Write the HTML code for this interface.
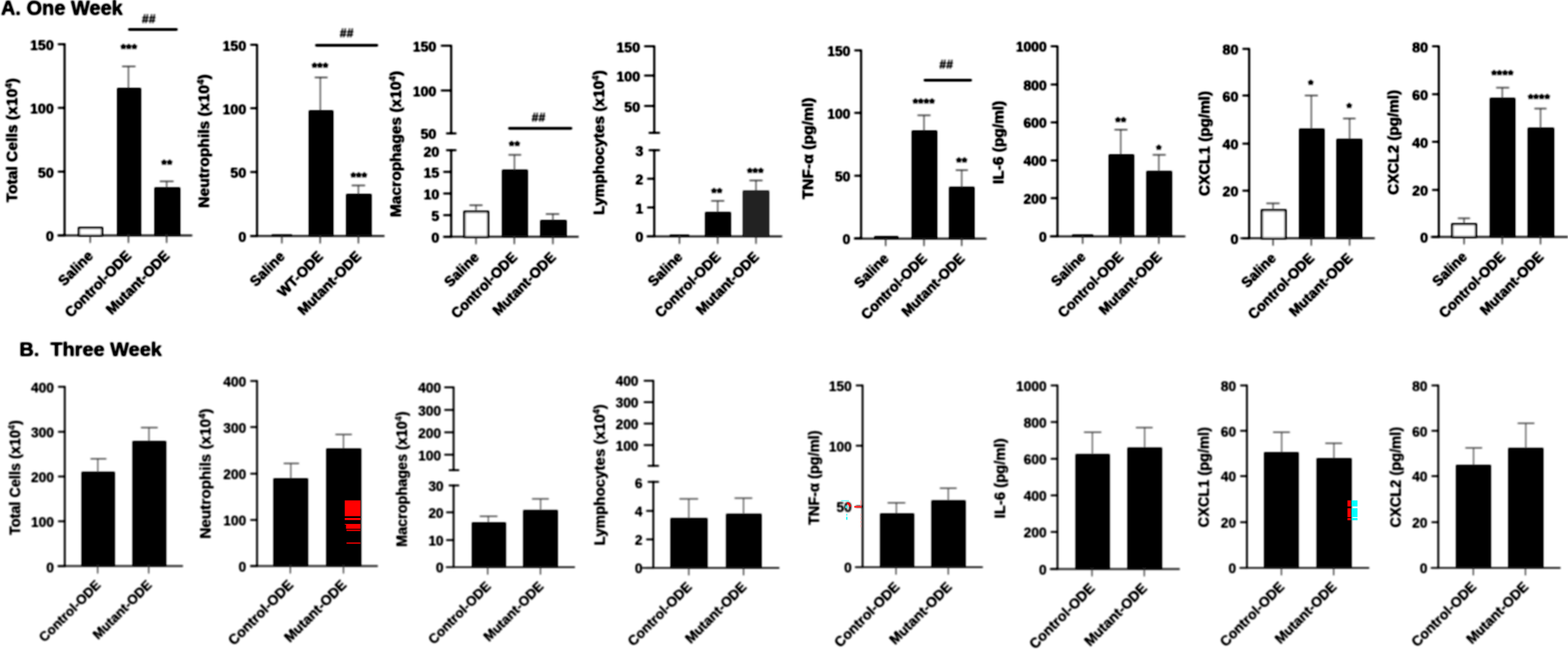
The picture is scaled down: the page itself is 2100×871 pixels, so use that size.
<!DOCTYPE html>
<html lang="en">
<head>
<meta charset="utf-8">
<title>Figure: One Week and Three Week ODE exposure</title>
<style>
html,body{margin:0;padding:0;background:#fff;}
body{width:2100px;height:871px;overflow:hidden;}
svg{display:block;}
svg text{font-family:"Liberation Sans",sans-serif;font-weight:bold;fill:#000;stroke:#000;stroke-width:0.1px;stroke-linejoin:round;}
</style>
</head>
<body>
<svg width="2100" height="871" viewBox="0 0 2100 871">
<defs><filter id="soft" x="0" y="0" width="2100" height="871" filterUnits="userSpaceOnUse"><feGaussianBlur stdDeviation="0.8"/><feComponentTransfer><feFuncA type="linear" slope="1.35" intercept="0"/></feComponentTransfer></filter><filter id="softB" x="0" y="0" width="2100" height="871" filterUnits="userSpaceOnUse"><feGaussianBlur stdDeviation="0.8"/><feComponentTransfer><feFuncA type="linear" slope="1.2" intercept="0"/></feComponentTransfer></filter></defs>
<rect x="0" y="0" width="2100" height="871" fill="#fff"/>
<g filter="url(#soft)">
<line x1="86.50" y1="57.90" x2="86.50" y2="316.60" stroke="#000" stroke-width="2.2"/>
<line x1="77.50" y1="59.25" x2="86.50" y2="59.25" stroke="#000" stroke-width="2.2"/>
<text x="72.00" y="66.75" font-size="19.0" text-anchor="end">150</text>
<line x1="77.50" y1="144.50" x2="86.50" y2="144.50" stroke="#000" stroke-width="2.2"/>
<text x="72.00" y="152.00" font-size="19.0" text-anchor="end">100</text>
<line x1="77.50" y1="230.00" x2="86.50" y2="230.00" stroke="#000" stroke-width="2.2"/>
<text x="72.00" y="237.50" font-size="19.0" text-anchor="end">50</text>
<line x1="77.50" y1="315.50" x2="86.50" y2="315.50" stroke="#000" stroke-width="2.2"/>
<text x="72.00" y="323.00" font-size="19.0" text-anchor="end">0</text>
<rect x="105.85" y="305.60" width="30.80" height="9.90" fill="#fff" stroke="#000" stroke-width="2.7"/>
<rect x="157.00" y="118.00" width="31.75" height="197.50" fill="#000"/>
<rect x="207.00" y="251.25" width="34.25" height="64.25" fill="#000"/>
<line x1="172.00" y1="89.00" x2="172.00" y2="118.00" stroke="#4a4a4a" stroke-width="1.3"/>
<line x1="163.50" y1="89.00" x2="181.50" y2="89.00" stroke="#4a4a4a" stroke-width="1.6"/>
<line x1="223.25" y1="243.00" x2="223.25" y2="251.25" stroke="#4a4a4a" stroke-width="1.3"/>
<line x1="214.00" y1="243.00" x2="232.50" y2="243.00" stroke="#4a4a4a" stroke-width="1.6"/>
<line x1="77.00" y1="315.50" x2="257.50" y2="315.50" stroke="#1a1a1a" stroke-width="2.0"/>
<line x1="120.75" y1="315.50" x2="120.75" y2="325.50" stroke="#444" stroke-width="1.5"/>
<text x="125.95" y="344.00" font-size="19.3" text-anchor="end" transform="rotate(-45 125.95 344.00)">Saline</text>
<line x1="172.00" y1="315.50" x2="172.00" y2="325.50" stroke="#444" stroke-width="1.5"/>
<text x="177.20" y="344.00" font-size="19.3" text-anchor="end" transform="rotate(-45 177.20 344.00)">Control-ODE</text>
<line x1="223.25" y1="315.50" x2="223.25" y2="325.50" stroke="#444" stroke-width="1.5"/>
<text x="228.45" y="344.00" font-size="19.3" text-anchor="end" transform="rotate(-45 228.45 344.00)">Mutant-ODE</text>
<text x="172.50" y="72.45" font-size="19" text-anchor="middle">***</text>
<text x="223.50" y="226.95" font-size="19" text-anchor="middle">**</text>
<line x1="173.00" y1="39.50" x2="236.50" y2="39.50" stroke="#000" stroke-width="2.8" stroke-linecap="round"/>
<text x="199.00" y="31.00" font-size="16.5" text-anchor="middle" font-style="italic">##</text>
<text x="23.00" y="188.00" font-size="21" text-anchor="middle" transform="rotate(-90 23.00 188.00)">Total Cells (x10<tspan font-size="13.0" dy="-7.5">4</tspan><tspan dy="7.5">)</tspan></text>
<line x1="344.25" y1="58.90" x2="344.25" y2="317.35" stroke="#000" stroke-width="2.2"/>
<line x1="335.25" y1="60.00" x2="344.25" y2="60.00" stroke="#000" stroke-width="2.2"/>
<text x="329.75" y="67.50" font-size="19.0" text-anchor="end">150</text>
<line x1="335.25" y1="145.00" x2="344.25" y2="145.00" stroke="#000" stroke-width="2.2"/>
<text x="329.75" y="152.50" font-size="19.0" text-anchor="end">100</text>
<line x1="335.25" y1="230.50" x2="344.25" y2="230.50" stroke="#000" stroke-width="2.2"/>
<text x="329.75" y="238.00" font-size="19.0" text-anchor="end">50</text>
<line x1="335.25" y1="316.25" x2="344.25" y2="316.25" stroke="#000" stroke-width="2.2"/>
<text x="329.75" y="323.75" font-size="19.0" text-anchor="end">0</text>
<rect x="364.00" y="314.20" width="27.00" height="2.05" fill="#000"/>
<rect x="413.75" y="148.00" width="32.50" height="168.25" fill="#000"/>
<rect x="463.75" y="260.00" width="33.75" height="56.25" fill="#000"/>
<line x1="429.00" y1="103.75" x2="429.00" y2="148.00" stroke="#4a4a4a" stroke-width="1.3"/>
<line x1="421.50" y1="103.75" x2="438.75" y2="103.75" stroke="#4a4a4a" stroke-width="1.6"/>
<line x1="480.00" y1="248.50" x2="480.00" y2="260.00" stroke="#4a4a4a" stroke-width="1.3"/>
<line x1="471.00" y1="248.50" x2="489.00" y2="248.50" stroke="#4a4a4a" stroke-width="1.6"/>
<line x1="335.00" y1="316.25" x2="515.00" y2="316.25" stroke="#1a1a1a" stroke-width="2.0"/>
<line x1="377.50" y1="316.25" x2="377.50" y2="326.25" stroke="#444" stroke-width="1.5"/>
<text x="382.70" y="344.75" font-size="19.3" text-anchor="end" transform="rotate(-45 382.70 344.75)">Saline</text>
<line x1="428.75" y1="316.25" x2="428.75" y2="326.25" stroke="#444" stroke-width="1.5"/>
<text x="433.95" y="344.75" font-size="19.3" text-anchor="end" transform="rotate(-45 433.95 344.75)">WT-ODE</text>
<line x1="480.00" y1="316.25" x2="480.00" y2="326.25" stroke="#444" stroke-width="1.5"/>
<text x="485.20" y="344.75" font-size="19.3" text-anchor="end" transform="rotate(-45 485.20 344.75)">Mutant-ODE</text>
<text x="428.50" y="97.45" font-size="19" text-anchor="middle">***</text>
<text x="480.50" y="243.95" font-size="19" text-anchor="middle">***</text>
<line x1="423.50" y1="60.75" x2="505.00" y2="60.75" stroke="#000" stroke-width="2.8" stroke-linecap="round"/>
<text x="464.00" y="50.00" font-size="16.5" text-anchor="middle" font-style="italic">##</text>
<text x="280.00" y="189.00" font-size="21" text-anchor="middle" transform="rotate(-90 280.00 189.00)">Neutrophils (x10<tspan font-size="13.0" dy="-7.5">4</tspan><tspan dy="7.5">)</tspan></text>
<line x1="604.25" y1="60.15" x2="604.25" y2="179.85" stroke="#000" stroke-width="2.2"/>
<line x1="604.25" y1="200.15" x2="604.25" y2="318.40" stroke="#000" stroke-width="2.2"/>
<line x1="597.50" y1="178.75" x2="611.25" y2="178.75" stroke="#000" stroke-width="2.2"/>
<line x1="597.50" y1="201.25" x2="611.25" y2="201.25" stroke="#000" stroke-width="2.2"/>
<line x1="590.50" y1="61.25" x2="604.25" y2="61.25" stroke="#000" stroke-width="2.2"/>
<text x="584.40" y="68.75" font-size="19.0" text-anchor="end">150</text>
<line x1="590.50" y1="121.25" x2="604.25" y2="121.25" stroke="#000" stroke-width="2.2"/>
<text x="584.40" y="128.75" font-size="19.0" text-anchor="end">100</text>
<text x="584.40" y="186.25" font-size="19.0" text-anchor="end">50</text>
<text x="588.45" y="209.50" font-size="19.0" text-anchor="end">20</text>
<line x1="593.75" y1="230.30" x2="604.25" y2="230.30" stroke="#000" stroke-width="2.2"/>
<text x="588.45" y="237.80" font-size="19.0" text-anchor="end">15</text>
<line x1="593.75" y1="259.30" x2="604.25" y2="259.30" stroke="#000" stroke-width="2.2"/>
<text x="588.45" y="266.80" font-size="19.0" text-anchor="end">10</text>
<line x1="593.75" y1="288.30" x2="604.25" y2="288.30" stroke="#000" stroke-width="2.2"/>
<text x="588.45" y="295.80" font-size="19.0" text-anchor="end">5</text>
<line x1="593.75" y1="317.30" x2="604.25" y2="317.30" stroke="#000" stroke-width="2.2"/>
<text x="588.45" y="324.80" font-size="19.0" text-anchor="end">0</text>
<rect x="622.10" y="283.85" width="31.55" height="33.45" fill="#fff" stroke="#000" stroke-width="2.7"/>
<rect x="672.50" y="227.50" width="34.25" height="89.80" fill="#000"/>
<rect x="723.75" y="295.00" width="35.00" height="22.30" fill="#000"/>
<line x1="637.50" y1="275.00" x2="637.50" y2="282.50" stroke="#4a4a4a" stroke-width="1.3"/>
<line x1="628.75" y1="275.00" x2="646.25" y2="275.00" stroke="#4a4a4a" stroke-width="1.6"/>
<line x1="689.00" y1="207.50" x2="689.00" y2="227.50" stroke="#4a4a4a" stroke-width="1.3"/>
<line x1="681.00" y1="207.50" x2="698.00" y2="207.50" stroke="#4a4a4a" stroke-width="1.6"/>
<line x1="740.50" y1="286.75" x2="740.50" y2="295.00" stroke="#4a4a4a" stroke-width="1.3"/>
<line x1="731.00" y1="286.75" x2="749.00" y2="286.75" stroke="#4a4a4a" stroke-width="1.6"/>
<line x1="593.75" y1="317.30" x2="775.00" y2="317.30" stroke="#1a1a1a" stroke-width="2.0"/>
<line x1="637.50" y1="317.30" x2="637.50" y2="327.30" stroke="#444" stroke-width="1.5"/>
<text x="642.70" y="345.80" font-size="19.16" text-anchor="end" transform="rotate(-45 642.70 345.80)">Saline</text>
<line x1="688.75" y1="317.30" x2="688.75" y2="327.30" stroke="#444" stroke-width="1.5"/>
<text x="693.95" y="345.80" font-size="19.16" text-anchor="end" transform="rotate(-45 693.95 345.80)">Control-ODE</text>
<line x1="740.50" y1="317.30" x2="740.50" y2="327.30" stroke="#444" stroke-width="1.5"/>
<text x="745.70" y="345.80" font-size="19.16" text-anchor="end" transform="rotate(-45 745.70 345.80)">Mutant-ODE</text>
<text x="689.00" y="202.45" font-size="19" text-anchor="middle">**</text>
<line x1="682.00" y1="172.00" x2="765.00" y2="172.00" stroke="#000" stroke-width="2.8" stroke-linecap="round"/>
<text x="721.00" y="163.00" font-size="16.5" text-anchor="middle" font-style="italic">##</text>
<text x="537.00" y="193.00" font-size="20.85" text-anchor="middle" transform="rotate(-90 537.00 193.00)">Macrophages (x10<tspan font-size="12.9" dy="-7.5">4</tspan><tspan dy="7.5">)</tspan></text>
<line x1="876.25" y1="60.90" x2="876.25" y2="179.10" stroke="#000" stroke-width="2.2"/>
<line x1="876.25" y1="200.15" x2="876.25" y2="317.85" stroke="#000" stroke-width="2.2"/>
<line x1="868.75" y1="178.00" x2="883.75" y2="178.00" stroke="#000" stroke-width="2.2"/>
<line x1="868.75" y1="201.25" x2="883.75" y2="201.25" stroke="#000" stroke-width="2.2"/>
<line x1="862.75" y1="62.00" x2="876.25" y2="62.00" stroke="#000" stroke-width="2.2"/>
<text x="857.25" y="69.50" font-size="19.0" text-anchor="end">150</text>
<line x1="862.75" y1="101.25" x2="876.25" y2="101.25" stroke="#000" stroke-width="2.2"/>
<text x="857.25" y="108.75" font-size="19.0" text-anchor="end">100</text>
<line x1="862.75" y1="142.00" x2="876.25" y2="142.00" stroke="#000" stroke-width="2.2"/>
<text x="857.25" y="149.50" font-size="19.0" text-anchor="end">50</text>
<text x="861.55" y="208.75" font-size="19.0" text-anchor="end">3</text>
<line x1="866.75" y1="239.50" x2="876.25" y2="239.50" stroke="#000" stroke-width="2.2"/>
<text x="861.55" y="247.00" font-size="19.0" text-anchor="end">2</text>
<line x1="866.75" y1="278.00" x2="876.25" y2="278.00" stroke="#000" stroke-width="2.2"/>
<text x="861.55" y="285.50" font-size="19.0" text-anchor="end">1</text>
<line x1="866.75" y1="316.75" x2="876.25" y2="316.75" stroke="#000" stroke-width="2.2"/>
<text x="861.55" y="324.25" font-size="19.0" text-anchor="end">0</text>
<rect x="897.00" y="314.60" width="26.00" height="2.15" fill="#000"/>
<rect x="944.50" y="284.25" width="34.25" height="32.50" fill="#000"/>
<rect x="995.00" y="255.50" width="35.00" height="61.25" fill="#242424"/>
<line x1="961.25" y1="269.25" x2="961.25" y2="284.25" stroke="#4a4a4a" stroke-width="1.3"/>
<line x1="952.50" y1="269.25" x2="970.00" y2="269.25" stroke="#4a4a4a" stroke-width="1.6"/>
<line x1="1012.50" y1="241.75" x2="1012.50" y2="255.50" stroke="#4a4a4a" stroke-width="1.3"/>
<line x1="1003.75" y1="241.75" x2="1021.25" y2="241.75" stroke="#4a4a4a" stroke-width="1.6"/>
<line x1="866.00" y1="316.75" x2="1047.50" y2="316.75" stroke="#1a1a1a" stroke-width="2.0"/>
<line x1="910.00" y1="316.75" x2="910.00" y2="326.75" stroke="#444" stroke-width="1.5"/>
<text x="915.20" y="345.25" font-size="19.02" text-anchor="end" transform="rotate(-45 915.20 345.25)">Saline</text>
<line x1="961.25" y1="316.75" x2="961.25" y2="326.75" stroke="#444" stroke-width="1.5"/>
<text x="966.45" y="345.25" font-size="19.02" text-anchor="end" transform="rotate(-45 966.45 345.25)">Control-ODE</text>
<line x1="1012.50" y1="316.75" x2="1012.50" y2="326.75" stroke="#444" stroke-width="1.5"/>
<text x="1017.70" y="345.25" font-size="19.02" text-anchor="end" transform="rotate(-45 1017.70 345.25)">Mutant-ODE</text>
<text x="960.00" y="264.95" font-size="19" text-anchor="middle">**</text>
<text x="1011.50" y="238.45" font-size="19" text-anchor="middle">***</text>
<text x="809.00" y="191.00" font-size="20.7" text-anchor="middle" transform="rotate(-90 809.00 191.00)">Lymphocytes (x10<tspan font-size="12.8" dy="-7.5">4</tspan><tspan dy="7.5">)</tspan></text>
<line x1="1153.25" y1="66.40" x2="1153.25" y2="320.35" stroke="#000" stroke-width="2.2"/>
<line x1="1144.25" y1="67.50" x2="1153.25" y2="67.50" stroke="#000" stroke-width="2.2"/>
<text x="1138.75" y="74.82" font-size="18.5" text-anchor="end">150</text>
<line x1="1144.25" y1="151.25" x2="1153.25" y2="151.25" stroke="#000" stroke-width="2.2"/>
<text x="1138.75" y="158.57" font-size="18.5" text-anchor="end">100</text>
<line x1="1144.25" y1="235.50" x2="1153.25" y2="235.50" stroke="#000" stroke-width="2.2"/>
<text x="1138.75" y="242.82" font-size="18.5" text-anchor="end">50</text>
<line x1="1144.25" y1="319.25" x2="1153.25" y2="319.25" stroke="#000" stroke-width="2.2"/>
<text x="1138.75" y="326.57" font-size="18.5" text-anchor="end">0</text>
<rect x="1171.00" y="316.60" width="32.00" height="3.20" fill="#000"/>
<rect x="1221.25" y="175.00" width="33.75" height="144.80" fill="#000"/>
<rect x="1271.25" y="250.50" width="33.75" height="69.30" fill="#000"/>
<line x1="1237.50" y1="154.50" x2="1237.50" y2="175.00" stroke="#4a4a4a" stroke-width="1.3"/>
<line x1="1228.75" y1="154.50" x2="1246.25" y2="154.50" stroke="#4a4a4a" stroke-width="1.6"/>
<line x1="1288.00" y1="228.00" x2="1288.00" y2="250.50" stroke="#4a4a4a" stroke-width="1.3"/>
<line x1="1280.00" y1="228.00" x2="1296.25" y2="228.00" stroke="#4a4a4a" stroke-width="1.6"/>
<line x1="1143.75" y1="319.80" x2="1321.25" y2="319.80" stroke="#1a1a1a" stroke-width="2.0"/>
<line x1="1186.25" y1="319.80" x2="1186.25" y2="329.80" stroke="#444" stroke-width="1.5"/>
<text x="1191.45" y="347.40" font-size="19.1" text-anchor="end" transform="rotate(-45 1191.45 347.40)">Saline</text>
<line x1="1237.50" y1="319.80" x2="1237.50" y2="329.80" stroke="#444" stroke-width="1.5"/>
<text x="1242.70" y="347.40" font-size="19.1" text-anchor="end" transform="rotate(-45 1242.70 347.40)">Control-ODE</text>
<line x1="1288.00" y1="319.80" x2="1288.00" y2="329.80" stroke="#444" stroke-width="1.5"/>
<text x="1293.20" y="347.40" font-size="19.1" text-anchor="end" transform="rotate(-45 1293.20 347.40)">Mutant-ODE</text>
<text x="1237.00" y="144.95" font-size="19" text-anchor="middle">****</text>
<text x="1288.00" y="223.70" font-size="19" text-anchor="middle">**</text>
<line x1="1238.50" y1="107.50" x2="1300.25" y2="107.50" stroke="#000" stroke-width="2.8" stroke-linecap="round"/>
<text x="1267.00" y="92.00" font-size="16.5" text-anchor="middle" font-style="italic">##</text>
<text x="1089.00" y="199.00" font-size="21" text-anchor="middle" transform="rotate(-90 1089.00 199.00)">TNF-α (pg/ml)</text>
<line x1="1416.25" y1="60.90" x2="1416.25" y2="317.85" stroke="#000" stroke-width="2.2"/>
<line x1="1407.25" y1="62.00" x2="1416.25" y2="62.00" stroke="#000" stroke-width="2.2"/>
<text x="1401.75" y="69.36" font-size="18.6" text-anchor="end">1000</text>
<line x1="1407.25" y1="113.25" x2="1416.25" y2="113.25" stroke="#000" stroke-width="2.2"/>
<text x="1401.75" y="120.61" font-size="18.6" text-anchor="end">800</text>
<line x1="1407.25" y1="164.00" x2="1416.25" y2="164.00" stroke="#000" stroke-width="2.2"/>
<text x="1401.75" y="171.36" font-size="18.6" text-anchor="end">600</text>
<line x1="1407.25" y1="215.00" x2="1416.25" y2="215.00" stroke="#000" stroke-width="2.2"/>
<text x="1401.75" y="222.36" font-size="18.6" text-anchor="end">400</text>
<line x1="1407.25" y1="265.50" x2="1416.25" y2="265.50" stroke="#000" stroke-width="2.2"/>
<text x="1401.75" y="272.86" font-size="18.6" text-anchor="end">200</text>
<line x1="1407.25" y1="316.75" x2="1416.25" y2="316.75" stroke="#000" stroke-width="2.2"/>
<text x="1401.75" y="324.11" font-size="18.6" text-anchor="end">0</text>
<rect x="1436.00" y="314.40" width="28.00" height="2.35" fill="#000"/>
<rect x="1485.00" y="207.00" width="33.75" height="109.75" fill="#000"/>
<rect x="1535.50" y="229.25" width="34.00" height="87.50" fill="#000"/>
<line x1="1501.00" y1="173.75" x2="1501.00" y2="207.00" stroke="#4a4a4a" stroke-width="1.3"/>
<line x1="1492.50" y1="173.75" x2="1510.00" y2="173.75" stroke="#4a4a4a" stroke-width="1.6"/>
<line x1="1552.00" y1="207.50" x2="1552.00" y2="229.25" stroke="#4a4a4a" stroke-width="1.3"/>
<line x1="1543.75" y1="207.50" x2="1561.25" y2="207.50" stroke="#4a4a4a" stroke-width="1.6"/>
<line x1="1406.00" y1="316.75" x2="1587.50" y2="316.75" stroke="#1a1a1a" stroke-width="2.0"/>
<line x1="1450.00" y1="316.75" x2="1450.00" y2="326.75" stroke="#444" stroke-width="1.5"/>
<text x="1455.20" y="345.25" font-size="19.02" text-anchor="end" transform="rotate(-45 1455.20 345.25)">Saline</text>
<line x1="1500.75" y1="316.75" x2="1500.75" y2="326.75" stroke="#444" stroke-width="1.5"/>
<text x="1505.95" y="345.25" font-size="19.02" text-anchor="end" transform="rotate(-45 1505.95 345.25)">Control-ODE</text>
<line x1="1552.00" y1="316.75" x2="1552.00" y2="326.75" stroke="#444" stroke-width="1.5"/>
<text x="1557.20" y="345.25" font-size="19.02" text-anchor="end" transform="rotate(-45 1557.20 345.25)">Mutant-ODE</text>
<text x="1501.00" y="169.95" font-size="19" text-anchor="middle">**</text>
<text x="1552.00" y="207.45" font-size="19" text-anchor="middle">*</text>
<text x="1344.50" y="190.80" font-size="20.7" text-anchor="middle" transform="rotate(-90 1344.50 190.80)">IL-6 (pg/ml)</text>
<line x1="1673.00" y1="64.40" x2="1673.00" y2="320.35" stroke="#000" stroke-width="2.2"/>
<line x1="1664.00" y1="65.50" x2="1673.00" y2="65.50" stroke="#000" stroke-width="2.2"/>
<text x="1658.50" y="73.00" font-size="19.0" text-anchor="end">80</text>
<line x1="1664.00" y1="128.00" x2="1673.00" y2="128.00" stroke="#000" stroke-width="2.2"/>
<text x="1658.50" y="135.50" font-size="19.0" text-anchor="end">60</text>
<line x1="1664.00" y1="192.50" x2="1673.00" y2="192.50" stroke="#000" stroke-width="2.2"/>
<text x="1658.50" y="200.00" font-size="19.0" text-anchor="end">40</text>
<line x1="1664.00" y1="255.50" x2="1673.00" y2="255.50" stroke="#000" stroke-width="2.2"/>
<text x="1658.50" y="263.00" font-size="19.0" text-anchor="end">20</text>
<line x1="1664.00" y1="319.25" x2="1673.00" y2="319.25" stroke="#000" stroke-width="2.2"/>
<text x="1658.50" y="326.75" font-size="19.0" text-anchor="end">0</text>
<rect x="1690.10" y="281.85" width="31.55" height="37.40" fill="#fff" stroke="#000" stroke-width="2.7"/>
<rect x="1740.00" y="172.50" width="33.75" height="146.75" fill="#000"/>
<rect x="1790.00" y="186.25" width="34.25" height="133.00" fill="#000"/>
<line x1="1705.00" y1="272.50" x2="1705.00" y2="280.50" stroke="#4a4a4a" stroke-width="1.3"/>
<line x1="1696.00" y1="272.50" x2="1713.75" y2="272.50" stroke="#4a4a4a" stroke-width="1.6"/>
<line x1="1756.25" y1="128.00" x2="1756.25" y2="172.50" stroke="#4a4a4a" stroke-width="1.3"/>
<line x1="1747.50" y1="128.00" x2="1765.00" y2="128.00" stroke="#4a4a4a" stroke-width="1.6"/>
<line x1="1807.50" y1="158.75" x2="1807.50" y2="186.25" stroke="#4a4a4a" stroke-width="1.3"/>
<line x1="1798.75" y1="158.75" x2="1815.50" y2="158.75" stroke="#4a4a4a" stroke-width="1.6"/>
<line x1="1661.25" y1="319.25" x2="1841.25" y2="319.25" stroke="#1a1a1a" stroke-width="2.0"/>
<line x1="1705.00" y1="319.25" x2="1705.00" y2="329.25" stroke="#444" stroke-width="1.5"/>
<text x="1710.20" y="346.85" font-size="19.2" text-anchor="end" transform="rotate(-45 1710.20 346.85)">Saline</text>
<line x1="1756.25" y1="319.25" x2="1756.25" y2="329.25" stroke="#444" stroke-width="1.5"/>
<text x="1761.45" y="346.85" font-size="19.2" text-anchor="end" transform="rotate(-45 1761.45 346.85)">Control-ODE</text>
<line x1="1807.50" y1="319.25" x2="1807.50" y2="329.25" stroke="#444" stroke-width="1.5"/>
<text x="1812.70" y="346.85" font-size="19.2" text-anchor="end" transform="rotate(-45 1812.70 346.85)">Mutant-ODE</text>
<text x="1755.50" y="119.95" font-size="19" text-anchor="middle">*</text>
<text x="1807.00" y="151.20" font-size="19" text-anchor="middle">*</text>
<text x="1620.00" y="192.20" font-size="20.4" text-anchor="middle" transform="rotate(-90 1620.00 192.20)">CXCL1 (pg/ml)</text>
<line x1="1927.00" y1="60.90" x2="1927.00" y2="318.60" stroke="#000" stroke-width="2.2"/>
<line x1="1918.00" y1="62.00" x2="1927.00" y2="62.00" stroke="#000" stroke-width="2.2"/>
<text x="1912.50" y="69.50" font-size="19.0" text-anchor="end">80</text>
<line x1="1918.00" y1="126.25" x2="1927.00" y2="126.25" stroke="#000" stroke-width="2.2"/>
<text x="1912.50" y="133.75" font-size="19.0" text-anchor="end">60</text>
<line x1="1918.00" y1="190.00" x2="1927.00" y2="190.00" stroke="#000" stroke-width="2.2"/>
<text x="1912.50" y="197.50" font-size="19.0" text-anchor="end">40</text>
<line x1="1918.00" y1="254.50" x2="1927.00" y2="254.50" stroke="#000" stroke-width="2.2"/>
<text x="1912.50" y="262.00" font-size="19.0" text-anchor="end">20</text>
<line x1="1918.00" y1="317.50" x2="1927.00" y2="317.50" stroke="#000" stroke-width="2.2"/>
<text x="1912.50" y="325.00" font-size="19.0" text-anchor="end">0</text>
<rect x="1945.10" y="300.60" width="31.55" height="16.90" fill="#fff" stroke="#000" stroke-width="2.7"/>
<rect x="1995.50" y="131.25" width="33.75" height="186.25" fill="#000"/>
<rect x="2046.25" y="171.25" width="35.00" height="146.25" fill="#000"/>
<line x1="1960.75" y1="292.50" x2="1960.75" y2="299.25" stroke="#4a4a4a" stroke-width="1.3"/>
<line x1="1952.50" y1="292.50" x2="1968.75" y2="292.50" stroke="#4a4a4a" stroke-width="1.6"/>
<line x1="2012.00" y1="117.50" x2="2012.00" y2="131.25" stroke="#4a4a4a" stroke-width="1.3"/>
<line x1="2003.75" y1="117.50" x2="2021.25" y2="117.50" stroke="#4a4a4a" stroke-width="1.6"/>
<line x1="2063.25" y1="145.50" x2="2063.25" y2="171.25" stroke="#4a4a4a" stroke-width="1.3"/>
<line x1="2055.00" y1="145.50" x2="2071.25" y2="145.50" stroke="#4a4a4a" stroke-width="1.6"/>
<line x1="1916.25" y1="317.50" x2="2100.00" y2="317.50" stroke="#1a1a1a" stroke-width="2.0"/>
<line x1="1960.75" y1="317.50" x2="1960.75" y2="327.50" stroke="#444" stroke-width="1.5"/>
<text x="1965.95" y="345.10" font-size="19.2" text-anchor="end" transform="rotate(-45 1965.95 345.10)">Saline</text>
<line x1="2012.00" y1="317.50" x2="2012.00" y2="327.50" stroke="#444" stroke-width="1.5"/>
<text x="2017.20" y="345.10" font-size="19.2" text-anchor="end" transform="rotate(-45 2017.20 345.10)">Control-ODE</text>
<line x1="2063.25" y1="317.50" x2="2063.25" y2="327.50" stroke="#444" stroke-width="1.5"/>
<text x="2068.45" y="345.10" font-size="19.2" text-anchor="end" transform="rotate(-45 2068.45 345.10)">Mutant-ODE</text>
<text x="2012.00" y="106.95" font-size="19" text-anchor="middle">****</text>
<text x="2061.00" y="139.45" font-size="19" text-anchor="middle">****</text>
<text x="1873.50" y="190.80" font-size="20.4" text-anchor="middle" transform="rotate(-90 1873.50 190.80)">CXCL2 (pg/ml)</text>
</g>
<g filter="url(#softB)">
<line x1="86.75" y1="517.20" x2="86.75" y2="759.80" stroke="#000" stroke-width="2.2"/>
<line x1="77.75" y1="518.30" x2="86.75" y2="518.30" stroke="#000" stroke-width="2.2"/>
<text x="72.25" y="526.19" font-size="18.4" text-anchor="end" stroke-width="0">400</text>
<line x1="77.75" y1="578.60" x2="86.75" y2="578.60" stroke="#000" stroke-width="2.2"/>
<text x="72.25" y="586.49" font-size="18.4" text-anchor="end" stroke-width="0">300</text>
<line x1="77.75" y1="638.50" x2="86.75" y2="638.50" stroke="#000" stroke-width="2.2"/>
<text x="72.25" y="646.39" font-size="18.4" text-anchor="end" stroke-width="0">200</text>
<line x1="77.75" y1="698.50" x2="86.75" y2="698.50" stroke="#000" stroke-width="2.2"/>
<text x="72.25" y="706.39" font-size="18.4" text-anchor="end" stroke-width="0">100</text>
<line x1="77.75" y1="758.70" x2="86.75" y2="758.70" stroke="#000" stroke-width="2.2"/>
<text x="72.25" y="766.59" font-size="18.4" text-anchor="end" stroke-width="0">0</text>
<rect x="109.25" y="632.25" width="44.50" height="126.25" fill="#000"/>
<rect x="177.50" y="591.00" width="45.00" height="167.50" fill="#000"/>
<line x1="131.00" y1="614.75" x2="131.00" y2="632.25" stroke="#4a4a4a" stroke-width="1.3"/>
<line x1="121.25" y1="614.75" x2="142.50" y2="614.75" stroke="#4a4a4a" stroke-width="1.6"/>
<line x1="199.50" y1="573.00" x2="199.50" y2="591.00" stroke="#4a4a4a" stroke-width="1.3"/>
<line x1="188.75" y1="573.00" x2="211.25" y2="573.00" stroke="#4a4a4a" stroke-width="1.6"/>
<line x1="77.00" y1="758.50" x2="245.00" y2="758.50" stroke="#1a1a1a" stroke-width="2.0"/>
<line x1="130.75" y1="758.50" x2="130.75" y2="768.50" stroke="#444" stroke-width="1.5"/>
<text x="135.95" y="784.90" font-size="17.83" text-anchor="end" transform="rotate(-45 135.95 784.90)" stroke-width="0">Control-ODE</text>
<line x1="199.25" y1="758.50" x2="199.25" y2="768.50" stroke="#444" stroke-width="1.5"/>
<text x="204.45" y="784.90" font-size="17.83" text-anchor="end" transform="rotate(-45 204.45 784.90)" stroke-width="0">Mutant-ODE</text>
<text x="27.00" y="640.00" font-size="19.4" text-anchor="middle" transform="rotate(-90 27.00 640.00)" stroke-width="0">Total Cells (x10<tspan font-size="12.0" dy="-7.5">4</tspan><tspan dy="7.5">)</tspan></text>
<line x1="344.25" y1="509.40" x2="344.25" y2="759.60" stroke="#000" stroke-width="2.2"/>
<line x1="335.25" y1="510.50" x2="344.25" y2="510.50" stroke="#000" stroke-width="2.2"/>
<text x="329.75" y="517.79" font-size="18.4" text-anchor="end" stroke-width="0">400</text>
<line x1="335.25" y1="572.25" x2="344.25" y2="572.25" stroke="#000" stroke-width="2.2"/>
<text x="329.75" y="579.54" font-size="18.4" text-anchor="end" stroke-width="0">300</text>
<line x1="335.25" y1="634.75" x2="344.25" y2="634.75" stroke="#000" stroke-width="2.2"/>
<text x="329.75" y="642.04" font-size="18.4" text-anchor="end" stroke-width="0">200</text>
<line x1="335.25" y1="696.75" x2="344.25" y2="696.75" stroke="#000" stroke-width="2.2"/>
<text x="329.75" y="704.04" font-size="18.4" text-anchor="end" stroke-width="0">100</text>
<line x1="335.25" y1="758.50" x2="344.25" y2="758.50" stroke="#000" stroke-width="2.2"/>
<text x="329.75" y="765.79" font-size="18.4" text-anchor="end" stroke-width="0">0</text>
<rect x="366.25" y="641.00" width="46.25" height="117.50" fill="#000"/>
<rect x="437.00" y="601.00" width="46.75" height="157.50" fill="#000"/>
<line x1="389.50" y1="621.00" x2="389.50" y2="641.00" stroke="#4a4a4a" stroke-width="1.3"/>
<line x1="380.00" y1="621.00" x2="400.50" y2="621.00" stroke="#4a4a4a" stroke-width="1.6"/>
<line x1="460.00" y1="582.25" x2="460.00" y2="601.00" stroke="#4a4a4a" stroke-width="1.3"/>
<line x1="449.25" y1="582.25" x2="471.25" y2="582.25" stroke="#4a4a4a" stroke-width="1.6"/>
<line x1="335.00" y1="758.50" x2="506.00" y2="758.50" stroke="#1a1a1a" stroke-width="2.0"/>
<line x1="388.75" y1="758.50" x2="388.75" y2="768.50" stroke="#444" stroke-width="1.5"/>
<text x="393.95" y="784.90" font-size="18.84" text-anchor="end" transform="rotate(-45 393.95 784.90)" stroke-width="0">Control-ODE</text>
<line x1="460.00" y1="758.50" x2="460.00" y2="768.50" stroke="#444" stroke-width="1.5"/>
<text x="465.20" y="784.90" font-size="18.84" text-anchor="end" transform="rotate(-45 465.20 784.90)" stroke-width="0">Mutant-ODE</text>
<text x="282.50" y="634.60" font-size="20.5" text-anchor="middle" transform="rotate(-90 282.50 634.60)" stroke-width="0">Neutrophils (x10<tspan font-size="12.7" dy="-7.5">4</tspan><tspan dy="7.5">)</tspan></text>
<line x1="607.50" y1="517.90" x2="607.50" y2="631.10" stroke="#000" stroke-width="2.2"/>
<line x1="607.50" y1="649.40" x2="607.50" y2="761.10" stroke="#000" stroke-width="2.2"/>
<line x1="601.00" y1="630.00" x2="615.00" y2="630.00" stroke="#000" stroke-width="2.2"/>
<line x1="601.00" y1="650.50" x2="615.00" y2="650.50" stroke="#000" stroke-width="2.2"/>
<line x1="595.10" y1="519.00" x2="607.50" y2="519.00" stroke="#000" stroke-width="2.2"/>
<text x="590.80" y="526.29" font-size="18.4" text-anchor="end" stroke-width="0">400</text>
<line x1="595.10" y1="549.30" x2="607.50" y2="549.30" stroke="#000" stroke-width="2.2"/>
<text x="590.80" y="556.59" font-size="18.4" text-anchor="end" stroke-width="0">300</text>
<line x1="595.10" y1="579.30" x2="607.50" y2="579.30" stroke="#000" stroke-width="2.2"/>
<text x="590.80" y="586.59" font-size="18.4" text-anchor="end" stroke-width="0">200</text>
<line x1="595.10" y1="609.30" x2="607.50" y2="609.30" stroke="#000" stroke-width="2.2"/>
<text x="590.80" y="616.59" font-size="18.4" text-anchor="end" stroke-width="0">100</text>
<text x="594.10" y="657.79" font-size="18.4" text-anchor="end" stroke-width="0">30</text>
<line x1="597.60" y1="686.50" x2="607.50" y2="686.50" stroke="#000" stroke-width="2.2"/>
<text x="594.10" y="693.79" font-size="18.4" text-anchor="end" stroke-width="0">20</text>
<line x1="597.60" y1="723.70" x2="607.50" y2="723.70" stroke="#000" stroke-width="2.2"/>
<text x="594.10" y="730.99" font-size="18.4" text-anchor="end" stroke-width="0">10</text>
<line x1="597.60" y1="760.00" x2="607.50" y2="760.00" stroke="#000" stroke-width="2.2"/>
<text x="594.10" y="767.29" font-size="18.4" text-anchor="end" stroke-width="0">0</text>
<rect x="632.00" y="700.00" width="45.50" height="60.00" fill="#000"/>
<rect x="700.75" y="683.50" width="46.25" height="76.50" fill="#000"/>
<line x1="654.00" y1="691.75" x2="654.00" y2="700.00" stroke="#4a4a4a" stroke-width="1.3"/>
<line x1="642.50" y1="691.75" x2="666.25" y2="691.75" stroke="#4a4a4a" stroke-width="1.6"/>
<line x1="724.00" y1="668.50" x2="724.00" y2="683.50" stroke="#4a4a4a" stroke-width="1.3"/>
<line x1="712.50" y1="668.50" x2="735.00" y2="668.50" stroke="#4a4a4a" stroke-width="1.6"/>
<line x1="597.50" y1="760.00" x2="770.00" y2="760.00" stroke="#1a1a1a" stroke-width="2.0"/>
<line x1="653.25" y1="760.00" x2="653.25" y2="770.00" stroke="#444" stroke-width="1.5"/>
<text x="658.45" y="786.70" font-size="18.1" text-anchor="end" transform="rotate(-45 658.45 786.70)" stroke-width="0">Control-ODE</text>
<line x1="723.75" y1="760.00" x2="723.75" y2="770.00" stroke="#444" stroke-width="1.5"/>
<text x="728.95" y="786.70" font-size="18.1" text-anchor="end" transform="rotate(-45 728.95 786.70)" stroke-width="0">Mutant-ODE</text>
<text x="545.30" y="642.00" font-size="19.3" text-anchor="middle" transform="rotate(-90 545.30 642.00)" stroke-width="0">Macrophages (x10<tspan font-size="12.0" dy="-7.5">4</tspan><tspan dy="7.5">)</tspan></text>
<line x1="875.00" y1="509.10" x2="875.00" y2="625.30" stroke="#000" stroke-width="2.2"/>
<line x1="875.00" y1="644.60" x2="875.00" y2="762.10" stroke="#000" stroke-width="2.2"/>
<line x1="867.50" y1="624.20" x2="882.50" y2="624.20" stroke="#000" stroke-width="2.2"/>
<line x1="867.50" y1="645.70" x2="882.50" y2="645.70" stroke="#000" stroke-width="2.2"/>
<line x1="862.20" y1="510.20" x2="875.00" y2="510.20" stroke="#000" stroke-width="2.2"/>
<text x="855.10" y="517.49" font-size="18.4" text-anchor="end" stroke-width="0">400</text>
<line x1="862.20" y1="538.90" x2="875.00" y2="538.90" stroke="#000" stroke-width="2.2"/>
<text x="855.10" y="546.19" font-size="18.4" text-anchor="end" stroke-width="0">300</text>
<line x1="862.20" y1="567.60" x2="875.00" y2="567.60" stroke="#000" stroke-width="2.2"/>
<text x="855.10" y="574.89" font-size="18.4" text-anchor="end" stroke-width="0">200</text>
<line x1="862.20" y1="596.40" x2="875.00" y2="596.40" stroke="#000" stroke-width="2.2"/>
<text x="855.10" y="603.69" font-size="18.4" text-anchor="end" stroke-width="0">100</text>
<text x="860.50" y="653.79" font-size="18.4" text-anchor="end" stroke-width="0">6</text>
<line x1="865.50" y1="684.60" x2="875.00" y2="684.60" stroke="#000" stroke-width="2.2"/>
<text x="860.50" y="691.89" font-size="18.4" text-anchor="end" stroke-width="0">4</text>
<line x1="865.50" y1="722.80" x2="875.00" y2="722.80" stroke="#000" stroke-width="2.2"/>
<text x="860.50" y="730.09" font-size="18.4" text-anchor="end" stroke-width="0">2</text>
<line x1="865.50" y1="761.00" x2="875.00" y2="761.00" stroke="#000" stroke-width="2.2"/>
<text x="860.50" y="768.29" font-size="18.4" text-anchor="end" stroke-width="0">0</text>
<rect x="898.00" y="694.25" width="49.50" height="66.75" fill="#000"/>
<rect x="972.50" y="688.50" width="47.50" height="72.50" fill="#000"/>
<line x1="922.50" y1="668.50" x2="922.50" y2="694.25" stroke="#4a4a4a" stroke-width="1.3"/>
<line x1="910.00" y1="668.50" x2="935.00" y2="668.50" stroke="#4a4a4a" stroke-width="1.6"/>
<line x1="995.75" y1="667.50" x2="995.75" y2="688.50" stroke="#4a4a4a" stroke-width="1.3"/>
<line x1="983.75" y1="667.50" x2="1007.50" y2="667.50" stroke="#4a4a4a" stroke-width="1.6"/>
<line x1="860.00" y1="761.00" x2="1043.75" y2="761.00" stroke="#1a1a1a" stroke-width="2.0"/>
<line x1="922.50" y1="761.00" x2="922.50" y2="771.00" stroke="#444" stroke-width="1.5"/>
<text x="927.70" y="787.40" font-size="18.56" text-anchor="end" transform="rotate(-45 927.70 787.40)" stroke-width="0">Control-ODE</text>
<line x1="995.75" y1="761.00" x2="995.75" y2="771.00" stroke="#444" stroke-width="1.5"/>
<text x="1000.95" y="787.40" font-size="18.56" text-anchor="end" transform="rotate(-45 1000.95 787.40)" stroke-width="0">Mutant-ODE</text>
<text x="810.20" y="636.20" font-size="20.2" text-anchor="middle" transform="rotate(-90 810.20 636.20)" stroke-width="0">Lymphocytes (x10<tspan font-size="12.5" dy="-7.5">4</tspan><tspan dy="7.5">)</tspan></text>
<line x1="1155.25" y1="515.40" x2="1155.25" y2="761.10" stroke="#000" stroke-width="2.2"/>
<line x1="1146.25" y1="516.50" x2="1155.25" y2="516.50" stroke="#000" stroke-width="2.2"/>
<text x="1140.75" y="523.79" font-size="18.4" text-anchor="end" stroke-width="0">150</text>
<line x1="1146.25" y1="597.25" x2="1155.25" y2="597.25" stroke="#000" stroke-width="2.2"/>
<text x="1140.75" y="604.54" font-size="18.4" text-anchor="end" stroke-width="0">100</text>
<line x1="1146.25" y1="678.75" x2="1155.25" y2="678.75" stroke="#000" stroke-width="2.2"/>
<text x="1140.75" y="686.04" font-size="18.4" text-anchor="end" stroke-width="0">50</text>
<line x1="1146.25" y1="760.00" x2="1155.25" y2="760.00" stroke="#000" stroke-width="2.2"/>
<text x="1140.75" y="767.29" font-size="18.4" text-anchor="end" stroke-width="0">0</text>
<rect x="1178.75" y="688.00" width="45.50" height="72.00" fill="#000"/>
<rect x="1247.50" y="670.50" width="45.75" height="89.50" fill="#000"/>
<line x1="1200.50" y1="673.75" x2="1200.50" y2="688.00" stroke="#4a4a4a" stroke-width="1.3"/>
<line x1="1188.75" y1="673.75" x2="1212.50" y2="673.75" stroke="#4a4a4a" stroke-width="1.6"/>
<line x1="1270.00" y1="654.25" x2="1270.00" y2="670.50" stroke="#4a4a4a" stroke-width="1.3"/>
<line x1="1258.75" y1="654.25" x2="1281.25" y2="654.25" stroke="#4a4a4a" stroke-width="1.6"/>
<line x1="1145.00" y1="760.00" x2="1316.25" y2="760.00" stroke="#1a1a1a" stroke-width="2.0"/>
<line x1="1200.00" y1="760.00" x2="1200.00" y2="770.00" stroke="#444" stroke-width="1.5"/>
<text x="1206.00" y="787.60" font-size="18.9" text-anchor="end" transform="rotate(-45 1206.00 787.60)" stroke-width="0">Control-ODE</text>
<line x1="1270.00" y1="760.00" x2="1270.00" y2="770.00" stroke="#444" stroke-width="1.5"/>
<text x="1276.00" y="787.60" font-size="18.9" text-anchor="end" transform="rotate(-45 1276.00 787.60)" stroke-width="0">Mutant-ODE</text>
<text x="1097.20" y="640.20" font-size="19.5" text-anchor="middle" transform="rotate(-90 1097.20 640.20)" stroke-width="0">TNF-α (pg/ml)</text>
<line x1="1416.25" y1="515.40" x2="1416.25" y2="763.50" stroke="#000" stroke-width="2.2"/>
<line x1="1407.25" y1="516.50" x2="1416.25" y2="516.50" stroke="#000" stroke-width="2.2"/>
<text x="1401.75" y="523.79" font-size="18.4" text-anchor="end" stroke-width="0">1000</text>
<line x1="1407.25" y1="565.50" x2="1416.25" y2="565.50" stroke="#000" stroke-width="2.2"/>
<text x="1401.75" y="572.79" font-size="18.4" text-anchor="end" stroke-width="0">800</text>
<line x1="1407.25" y1="614.80" x2="1416.25" y2="614.80" stroke="#000" stroke-width="2.2"/>
<text x="1401.75" y="622.09" font-size="18.4" text-anchor="end" stroke-width="0">600</text>
<line x1="1407.25" y1="663.80" x2="1416.25" y2="663.80" stroke="#000" stroke-width="2.2"/>
<text x="1401.75" y="671.09" font-size="18.4" text-anchor="end" stroke-width="0">400</text>
<line x1="1407.25" y1="712.80" x2="1416.25" y2="712.80" stroke="#000" stroke-width="2.2"/>
<text x="1401.75" y="720.09" font-size="18.4" text-anchor="end" stroke-width="0">200</text>
<line x1="1407.25" y1="762.40" x2="1416.25" y2="762.40" stroke="#000" stroke-width="2.2"/>
<text x="1401.75" y="769.69" font-size="18.4" text-anchor="end" stroke-width="0">0</text>
<rect x="1440.50" y="608.50" width="45.75" height="153.90" fill="#000"/>
<rect x="1510.00" y="599.75" width="46.25" height="162.65" fill="#000"/>
<line x1="1463.00" y1="579.25" x2="1463.00" y2="608.50" stroke="#4a4a4a" stroke-width="1.3"/>
<line x1="1451.75" y1="579.25" x2="1475.00" y2="579.25" stroke="#4a4a4a" stroke-width="1.6"/>
<line x1="1533.00" y1="573.00" x2="1533.00" y2="599.75" stroke="#4a4a4a" stroke-width="1.3"/>
<line x1="1521.25" y1="573.00" x2="1543.75" y2="573.00" stroke="#4a4a4a" stroke-width="1.6"/>
<line x1="1406.00" y1="762.40" x2="1580.00" y2="762.40" stroke="#1a1a1a" stroke-width="2.0"/>
<line x1="1462.50" y1="762.40" x2="1462.50" y2="772.40" stroke="#444" stroke-width="1.5"/>
<text x="1467.50" y="789.30" font-size="19.0" text-anchor="end" transform="rotate(-45 1467.50 789.30)" stroke-width="0">Control-ODE</text>
<line x1="1532.50" y1="762.40" x2="1532.50" y2="772.40" stroke="#444" stroke-width="1.5"/>
<text x="1537.50" y="789.30" font-size="19.0" text-anchor="end" transform="rotate(-45 1537.50 789.30)" stroke-width="0">Mutant-ODE</text>
<text x="1345.70" y="641.00" font-size="19.9" text-anchor="middle" transform="rotate(-90 1345.70 641.00)" stroke-width="0">IL-6 (pg/ml)</text>
<line x1="1670.00" y1="515.40" x2="1670.00" y2="762.10" stroke="#000" stroke-width="2.2"/>
<line x1="1661.00" y1="516.50" x2="1670.00" y2="516.50" stroke="#000" stroke-width="2.2"/>
<text x="1655.50" y="523.79" font-size="18.4" text-anchor="end" stroke-width="0">80</text>
<line x1="1661.00" y1="577.25" x2="1670.00" y2="577.25" stroke="#000" stroke-width="2.2"/>
<text x="1655.50" y="584.54" font-size="18.4" text-anchor="end" stroke-width="0">60</text>
<line x1="1661.00" y1="638.00" x2="1670.00" y2="638.00" stroke="#000" stroke-width="2.2"/>
<text x="1655.50" y="645.29" font-size="18.4" text-anchor="end" stroke-width="0">40</text>
<line x1="1661.00" y1="699.75" x2="1670.00" y2="699.75" stroke="#000" stroke-width="2.2"/>
<text x="1655.50" y="707.04" font-size="18.4" text-anchor="end" stroke-width="0">20</text>
<line x1="1661.00" y1="761.00" x2="1670.00" y2="761.00" stroke="#000" stroke-width="2.2"/>
<text x="1655.50" y="768.29" font-size="18.4" text-anchor="end" stroke-width="0">0</text>
<rect x="1693.00" y="606.00" width="46.25" height="155.00" fill="#000"/>
<rect x="1763.40" y="614.00" width="46.80" height="147.00" fill="#000"/>
<line x1="1716.50" y1="579.25" x2="1716.50" y2="606.00" stroke="#4a4a4a" stroke-width="1.3"/>
<line x1="1705.00" y1="579.25" x2="1727.50" y2="579.25" stroke="#4a4a4a" stroke-width="1.6"/>
<line x1="1786.50" y1="594.00" x2="1786.50" y2="614.00" stroke="#4a4a4a" stroke-width="1.3"/>
<line x1="1775.00" y1="594.00" x2="1797.50" y2="594.00" stroke="#4a4a4a" stroke-width="1.6"/>
<line x1="1660.00" y1="761.00" x2="1833.75" y2="761.00" stroke="#1a1a1a" stroke-width="2.0"/>
<line x1="1716.25" y1="761.00" x2="1716.25" y2="771.00" stroke="#444" stroke-width="1.5"/>
<text x="1721.45" y="787.40" font-size="18.7" text-anchor="end" transform="rotate(-45 1721.45 787.40)" stroke-width="0">Control-ODE</text>
<line x1="1786.25" y1="761.00" x2="1786.25" y2="771.00" stroke="#444" stroke-width="1.5"/>
<text x="1791.45" y="787.40" font-size="18.7" text-anchor="end" transform="rotate(-45 1791.45 787.40)" stroke-width="0">Mutant-ODE</text>
<text x="1618.60" y="639.50" font-size="19.5" text-anchor="middle" transform="rotate(-90 1618.60 639.50)" stroke-width="0">CXCL1 (pg/ml)</text>
<line x1="1926.25" y1="515.40" x2="1926.25" y2="762.10" stroke="#000" stroke-width="2.2"/>
<line x1="1917.25" y1="516.50" x2="1926.25" y2="516.50" stroke="#000" stroke-width="2.2"/>
<text x="1911.75" y="523.79" font-size="18.4" text-anchor="end" stroke-width="0">80</text>
<line x1="1917.25" y1="577.25" x2="1926.25" y2="577.25" stroke="#000" stroke-width="2.2"/>
<text x="1911.75" y="584.54" font-size="18.4" text-anchor="end" stroke-width="0">60</text>
<line x1="1917.25" y1="638.00" x2="1926.25" y2="638.00" stroke="#000" stroke-width="2.2"/>
<text x="1911.75" y="645.29" font-size="18.4" text-anchor="end" stroke-width="0">40</text>
<line x1="1917.25" y1="699.75" x2="1926.25" y2="699.75" stroke="#000" stroke-width="2.2"/>
<text x="1911.75" y="707.04" font-size="18.4" text-anchor="end" stroke-width="0">20</text>
<line x1="1917.25" y1="761.00" x2="1926.25" y2="761.00" stroke="#000" stroke-width="2.2"/>
<text x="1911.75" y="768.29" font-size="18.4" text-anchor="end" stroke-width="0">0</text>
<rect x="1950.00" y="623.00" width="46.75" height="138.00" fill="#000"/>
<rect x="2020.00" y="600.25" width="47.00" height="160.75" fill="#000"/>
<line x1="1973.50" y1="600.25" x2="1973.50" y2="623.00" stroke="#4a4a4a" stroke-width="1.3"/>
<line x1="1962.50" y1="600.25" x2="1985.00" y2="600.25" stroke="#4a4a4a" stroke-width="1.6"/>
<line x1="2043.50" y1="567.25" x2="2043.50" y2="600.25" stroke="#4a4a4a" stroke-width="1.3"/>
<line x1="2032.50" y1="567.25" x2="2055.00" y2="567.25" stroke="#4a4a4a" stroke-width="1.6"/>
<line x1="1916.25" y1="761.00" x2="2090.00" y2="761.00" stroke="#1a1a1a" stroke-width="2.0"/>
<line x1="1973.25" y1="761.00" x2="1973.25" y2="771.00" stroke="#444" stroke-width="1.5"/>
<text x="1978.45" y="787.40" font-size="18.8" text-anchor="end" transform="rotate(-45 1978.45 787.40)" stroke-width="0">Control-ODE</text>
<line x1="2043.00" y1="761.00" x2="2043.00" y2="771.00" stroke="#444" stroke-width="1.5"/>
<text x="2048.20" y="787.40" font-size="18.8" text-anchor="end" transform="rotate(-45 2048.20 787.40)" stroke-width="0">Mutant-ODE</text>
<text x="1875.70" y="639.50" font-size="19.6" text-anchor="middle" transform="rotate(-90 1875.70 639.50)" stroke-width="0">CXCL2 (pg/ml)</text>
</g>
<g filter="url(#soft)">
<text x="1.20" y="19.50" font-size="26.8" text-anchor="start">A. One Week</text>
<text x="26.00" y="477.40" font-size="26.7" text-anchor="start" style="white-space:pre">B.  Three Week</text>
</g>
<g>
<rect x="461.70" y="670.50" width="21.00" height="21.20" fill="#ff0000"/>
<rect x="461.70" y="694.00" width="21.00" height="2.90" fill="#ff0000"/>
<rect x="461.70" y="702.10" width="21.00" height="0.90" fill="#ff0000"/>
<rect x="463.40" y="702.90" width="19.30" height="5.70" fill="#ff0000"/>
<rect x="464.10" y="709.80" width="18.50" height="1.70" fill="#ff0000"/>
<rect x="464.10" y="726.90" width="18.50" height="1.60" fill="#ff0000"/>
<rect x="1804.60" y="670.50" width="4.40" height="8.10" fill="#ff0000"/>
<rect x="1810.20" y="670.50" width="7.90" height="8.10" fill="#00ffff"/>
<rect x="1804.60" y="681.10" width="4.40" height="11.80" fill="#ff0000"/>
<rect x="1810.20" y="681.10" width="7.90" height="11.80" fill="#00ffff"/>
<rect x="1804.60" y="694.10" width="4.40" height="3.10" fill="#ff0000"/>
<rect x="1810.20" y="694.10" width="7.90" height="3.10" fill="#00ffff"/>
<rect x="1144.20" y="677.90" width="9.80" height="2.50" fill="#ff2a2a"/>
<rect x="1152.40" y="670.50" width="1.20" height="7.40" fill="#ff9a9a"/>
<rect x="1152.40" y="688.50" width="1.10" height="3.00" fill="#ffb0b0"/>
<rect x="1152.40" y="693.00" width="1.10" height="3.00" fill="#ffb0b0"/>
<rect x="1152.40" y="698.00" width="1.10" height="3.00" fill="#ffb0b0"/>
<rect x="1152.40" y="703.00" width="1.10" height="3.50" fill="#ffb0b0"/>
<path d="M1134.2 673.6 a4.2 5.6 0 0 1 5.6 5.4 l-2.6 0 a2.2 3.6 0 0 0 -3.0 -3.2 z" fill="#ff0000"/>
<rect x="1126.50" y="670.30" width="10.50" height="1.30" fill="#66ffff"/>
<rect x="1133.00" y="688.50" width="2.20" height="2.50" fill="#7fffff"/>
<rect x="1133.00" y="692.50" width="2.20" height="4.00" fill="#40ffff"/>
<rect x="1132.20" y="677.50" width="2.40" height="3.50" fill="#30e0e0"/>
</g>
</svg>
</body>
</html>
